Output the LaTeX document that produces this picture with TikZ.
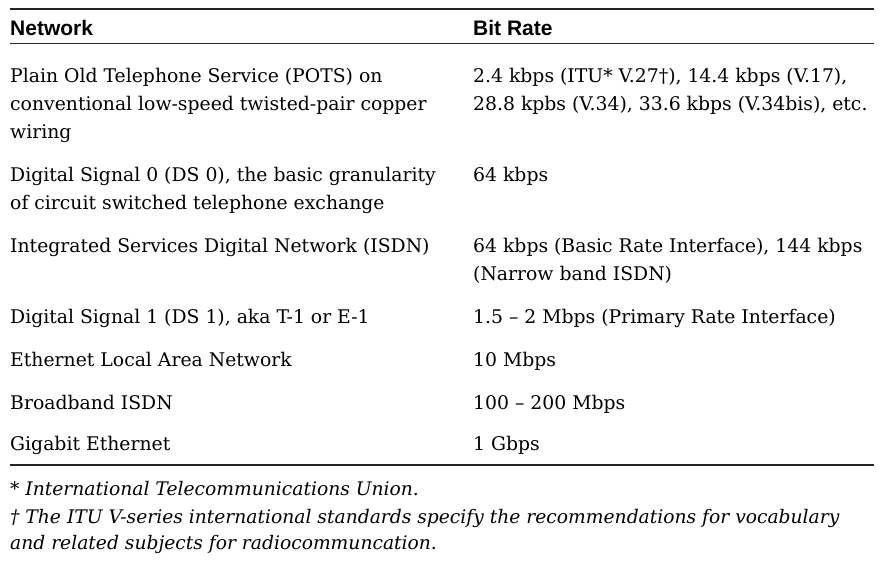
\documentclass[tikz,border=0pt]{standalone}
\usepackage{fontspec}
\setmainfont{DejaVu Serif}
\newfontfamily\hdfont{Liberation Sans}
\newfontfamily\fnfont{DejaVu Serif}
\begin{document}
\begin{tikzpicture}[x=1pt,y=-1pt,
  cell/.style={anchor=base west,inner sep=0pt,font=\fontsize{18.8}{22}\selectfont},
  head/.style={anchor=base west,inner sep=0pt,font=\hdfont\bfseries\fontsize{21}{24}\selectfont},
  foot/.style={anchor=base west,inner sep=0pt,font=\fnfont\itshape\fontsize{18.7}{22}\selectfont},
  rulel/.style={line width=1.2pt,black!85}]
\useasboundingbox (0,0) rectangle (891,568);
\fill[white] (0,0) rectangle (891,568);
\coordinate (tl) at (10,9); \coordinate (tr) at (874,9);
\coordinate (ml) at (10,43.3); \coordinate (mr) at (874,43.3);
\coordinate (bl) at (10,465); \coordinate (br) at (874,465);
\draw[rulel] (tl) -- (tr);
\draw[rulel] (ml) -- (mr);
\draw[rulel] (bl) -- (br);
\node[head] (h1) at (10,35) {Network};
\node[head] (h2) at (473,35) {Bit Rate};
\node[cell] (a1) at (10,82) {Plain Old Telephone Service (POTS) on};
\node[cell] (a2) at (10,110) {conventional low-speed twisted-pair copper};
\node[cell] (a3) at (10,138) {wiring};
\node[cell] (b1) at (473,82) {2.4 kbps (ITU* V.27†), 14.4 kbps (V.17),};
\node[cell] (b2) at (473,110) {28.8 kpbs (V.34), 33.6 kbps (V.34bis), etc.};
\node[cell] (c1) at (10,181) {Digital Signal 0 (DS 0), the basic granularity};
\node[cell] (c2) at (10,209) {of circuit switched telephone exchange};
\node[cell] (d1) at (473,181) {64 kbps};
\node[cell] (e1) at (10,252) {Integrated Services Digital Network (ISDN)};
\node[cell] (f1) at (473,252) {64 kbps (Basic Rate Interface), 144 kbps};
\node[cell] (f2) at (473,280) {(Narrow band ISDN)};
\node[cell] (g1) at (10,323) {Digital Signal 1 (DS 1), aka T-1 or E-1};
\node[cell] (h1r) at (473,323) {1.5 – 2 Mbps (Primary Rate Interface)};
\node[cell] (i1) at (10,366) {Ethernet Local Area Network};
\node[cell] (j1) at (473,366) {10 Mbps};
\node[cell] (k1) at (10,409) {Broadband ISDN};
\node[cell] (l1) at (473,409) {100 – 200 Mbps};
\node[cell] (m1) at (10,450) {Gigabit Ethernet};
\node[cell] (n1) at (473,450) {1 Gbps};
\node[foot] (p1) at (10,495) {* International Telecommunications Union.};
\node[foot] (p2) at (10,523) {† The ITU V-series international standards specify the recommendations for vocabulary};
\node[foot] (p3) at (10,549) {and related subjects for radiocommuncation.};
\end{tikzpicture}
\end{document}
